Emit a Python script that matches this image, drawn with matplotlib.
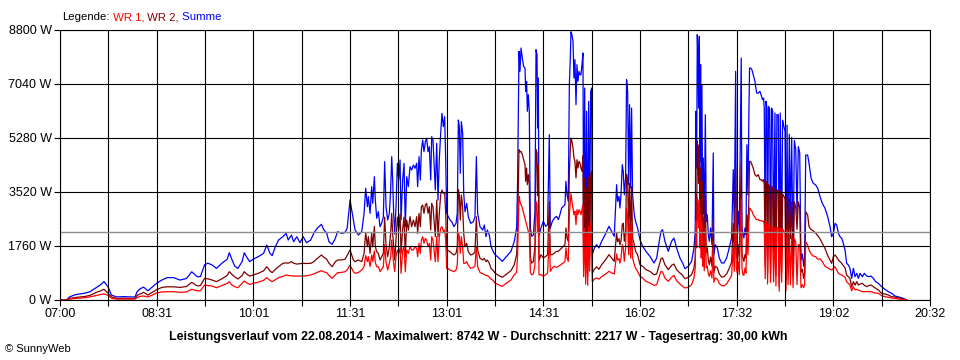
import matplotlib
matplotlib.use("Agg")
import matplotlib.pyplot as plt
import numpy as np

plt.rcParams['font.family'] = ['Liberation Sans', 'DejaVu Sans']

# minutes after 07:00
minutes = [
    0, 6, 9, 14, 19, 24, 28, 34, 38, 41, 45, 48, 53, 60, 66, 70, 72, 75, 78, 82, 86, 90, 95, 100, 106, 112, 118, 123, 128, 131,
    135, 138, 142, 146, 151, 156, 158, 160, 163, 166, 170, 172, 174, 177, 180, 185, 190, 193, 196, 198, 201, 204, 208, 211, 213, 216, 218, 221, 224, 227, 230, 234, 237, 240, 244, 246, 249, 251, 254, 257, 259, 263, 266, 268,
    270.7, 273.8, 275.4, 278.5, 281.6, 283.8, 285.3, 286.9, 287.8, 289.4,
    290.9, 291.9, 293.4, 294.3, 295.6, 297.1, 298.7, 300.2, 301.8, 303.0,
    304.3, 305.8, 307.4, 308.6, 309.6, 310.5, 311.4, 312.4, 313.6, 314.9,
    316.1, 317.4, 318.3, 319.8, 321.1, 322.3, 323.6, 325.1, 326.7, 328.2,
    329.8, 331.3, 332.9, 333.8, 335.1, 336.3, 337.3, 338.5, 339.7, 341.0,
    342.2, 343.5, 344.7, 346.0, 346.9, 348.1, 349.1, 350.3, 351.6, 352.8,
    354.0, 355.3, 356.5, 357.8, 359.0, 360.0, 360.9, 362.4, 364.0, 365.6,
    367.7, 369.6, 370.8, 371.8, 372.7, 373.6, 374.6, 375.8, 376.8, 378.0,
    379.6, 381.1, 383.3, 385.8, 387.3, 388.6, 389.8, 392.0, 394.5, 396.0,
    397.6, 398.8, 400.7, 402.3, 404.4,
    406.0, 409.1, 412.8, 416.9, 420.9, 424.0, 426.2, 427.1, 428.4, 429.3,
    430.3, 431.5, 432.7, 434.0, 434.6, 435.5, 436.2, 437.1, 438.0, 439.0,
    440.2, 441.8, 443.3, 444.3, 445.2, 445.8, 446.4, 447.1, 448.9, 451.1,
    453.3, 455.1, 456.7, 457.6, 459.5, 461.4, 463.5, 465.1, 466.6, 468.2,
    469.8, 471.3, 472.2, 473.2, 474.4, 475.4, 476.3, 476.9, 477.8, 478.8,
    479.7, 480.6, 481.6, 482.5, 483.4, 484.4, 485.3, 486.2, 487.2, 488.1,
    488.7, 489.7, 490.6, 491.5, 492.5, 493.4, 494.3, 495.3, 496.2, 496.8,
    498.7, 500.9, 503.0, 505.5, 508.6, 512.4, 514.9, 517.3, 519.5, 520.4,
    521.7, 522.6, 523.6, 524.8, 525.7, 526.7, 527.9, 528.8, 529.8, 530.7,
    531.6, 532.6, 533.5, 534.4, 536.0, 537.2, 539.1,
    541.3, 543.8, 546.9, 550.6, 554.4, 556.9, 559.3, 560.9, 562.4, 564.6,
    567.7, 570.8, 573.0, 575.5, 578.6, 581.1, 583.3, 586.4, 589.5, 591.7,
    592.9, 593.5, 594.2, 594.8, 595.4, 596.0, 596.7, 597.3, 597.9, 598.5,
    599.1, 599.8, 600.4, 601.3, 602.3, 603.2, 604.1, 605.1, 606.0, 607.2,
    608.5, 609.7, 610.3, 611.6, 613.5, 615.3, 617.5, 619.7, 622.2, 624.6,
    626.8, 628.4, 629.3, 630.6, 631.2, 632.1, 633.0, 634.0, 634.9, 635.8,
    636.5, 637.4, 638.3, 639.3, 640.2, 641.1, 642.1, 643.0, 643.6, 644.6,
    645.8, 647.0, 648.6, 650.2, 651.7, 653.3, 654.8, 655.7, 656.7, 657.3,
    658.2, 658.9, 659.8, 660.4, 661.3, 662.3, 663.2, 664.1, 665.1, 666.0,
    667.3, 668.2, 669.1, 670.4, 671.3, 672.2, 673.5, 674.4, 675.3,
    676.7, 677.6, 678.6, 679.5, 680.7, 681.7, 682.9, 684.2, 685.4, 686.7, 687.9, 689.1, 690.4, 691.6, 692.9, 694.1, 695.0,
    696.0, 697.8, 699.1, 701.0, 703.1, 705.3, 707.2, 709.4, 711.5, 714.0,
    716.5, 718.7, 720.2, 721.8, 723.4, 724.9, 726.5, 728.0, 729.6, 731.1,
    732.7, 734.2, 735.8, 737.3, 738.9, 740.5, 742.0, 743.6, 745.1, 746.7,
    748.9, 750.7, 752.9, 755.1, 756.9, 759.1, 761.3, 763.8, 766.9, 770.0,
    773.1, 776.2, 779.3, 784.0, 787.1, 790.2,
]

summe = [
    0, 0, 100, 170, 200, 230, 270, 410, 500, 600, 420, 160, 100, 110, 100, 100, 270, 370, 420, 300, 420, 540, 650, 730, 730, 650, 700, 920, 760, 760,
    1150, 1200, 1140, 1030, 1195, 1325, 1540, 1360, 1108, 1030, 1250, 1540, 1412, 1250, 1325, 1412, 1520, 1790, 1520, 1445, 1738, 1955, 2063, 2172, 1955, 2117, 1900, 2063, 1868, 2063, 1868, 1955, 2183, 2335, 2466, 2300, 2172, 1900, 1814, 2010, 2226, 2172, 2200, 2335,
    3259, 2607, 2281, 2118, 2227, 2825, 3640, 3041, 3367, 2825,
    3693, 3150, 4019, 3259, 2662, 2879, 2390, 2498, 2716, 4508,
    3041, 2607, 2825, 3585, 4671, 3911, 2825, 2150, 3041, 4454,
    3911, 4563, 2607, 3911, 4454, 2390, 4019, 3693, 4345, 4237,
    4400, 4291, 4454, 3693, 4671, 3911, 4889, 5214, 4834, 5160,
    5269, 4834, 4997, 3911, 5323, 5214, 4454, 3585, 5106, 3259,
    4563, 5431, 6083, 5649, 5975, 4563, 2825, 2716, 2607, 2553,
    2390, 2498, 2825, 5866, 5649, 4128, 5812, 5431, 3476, 2879,
    3150, 2716, 2498, 2553, 2716, 4671, 2825, 2390, 2281, 2444,
    2064, 2281, 2118, 1738, 1575,
    1477, 1390, 1260, 1423, 1586, 1912, 2346, 3868, 8104, 7452,
    8213, 7887, 7615, 7561, 6800, 7127, 6150, 6692, 6150, 2346,
    2075, 2118, 2890, 8158, 7995, 5605, 7235, 2118, 2346, 2564,
    2401, 2455, 5388, 2346, 2564, 2672, 2727, 2618, 2781, 2998,
    3052, 3107, 3868, 3432, 3215, 7018, 7887, 8742, 8647, 8430,
    7235, 7832, 6366, 7670, 7127, 7452, 7343, 7343, 7670, 8050,
    1912, 6909, 1369, 6150, 1260, 6475, 2346, 6800, 6909, 1477,
    1695, 1803, 1695, 1912, 2118, 2401, 2238, 2075, 3758, 3215,
    3378, 2998, 3432, 4410, 4193, 3432, 3976, 7181, 6800, 3758,
    6366, 3650, 6257, 3432, 2781, 2564, 2346,
    1966, 1749, 1586, 1423, 1206, 1369, 1912, 2238, 2292, 1912,
    1586, 1912, 2020, 1695, 1369, 1206, 1021, 1097, 1260, 1695,
    2238, 6150, 4302, 8647, 7995, 6257, 8593, 4519, 7670, 3432,
    7018, 2781, 4628, 2346, 6040, 2564, 2781, 2129, 1912, 2346,
    1803, 4791, 1477, 1803, 1695, 1369, 1206, 1206, 1369, 1695,
    2020, 4247, 2346, 7452, 2455, 2346, 2890, 2238, 5171, 7887,
    2346, 2129, 2020, 2346, 2129, 5062, 3432, 6150, 7561, 7561,
    7506, 7343, 7127, 6746, 6746, 6800, 6638, 6529, 6583, 6257,
    1803, 6475, 6257, 1369, 6312, 6203, 1477, 6257, 6150, 1586,
    6095, 1260, 6040, 6040, 717, 6095, 1477, 5860, 5700,
    5500, 1000, 5700, 1600, 5400, 2500, 5300, 1200, 5200, 4900, 2800, 5000, 4800, 1300, 1500, 1100, 1400,
    4725, 4725, 4454, 3965, 3802, 3748, 3639, 3367, 3150, 2987,
    2716, 2390, 2064, 2173, 2498, 2444, 2173, 2064, 2010, 1847,
    1630, 1195, 1141, 1032, 706, 1032, 760, 869, 706, 869,
    760, 869, 782, 760, 782, 706, 597, 543, 434, 347,
    272, 217, 130, 87, 54, 0,
]

wr2 = [
    0, 0, 50, 80, 100, 120, 150, 250, 300, 350, 220, 100, 50, 60, 50, 50, 150, 200, 250, 160, 250, 330, 410, 430, 430, 410, 440, 575, 460, 470,
    706, 690, 650, 597, 690, 800, 923, 850, 760, 685, 800, 923, 850, 780, 815, 870, 950, 1086, 950, 890, 1000, 1086, 1195, 1210, 1200, 1250, 1200, 1170, 1185, 1195, 1190, 1195, 1250, 1350, 1466, 1400, 1325, 1200, 1086, 1250, 1300, 1310, 1325, 1450,
    1630, 1304, 1249, 1304, 1250, 1521, 2200, 1738, 2064, 1521,
    2173, 1738, 2400, 1738, 1575, 1521, 1304, 1412, 1521, 2700,
    1800, 1412, 1738, 2173, 2825, 2173, 1738, 1304, 1955, 2700,
    2281, 2800, 1521, 2300, 2700, 1412, 2607, 2281, 2716, 2390,
    2607, 2390, 2716, 2173, 2825, 2390, 3041, 3096, 2825, 3096,
    3150, 2825, 3041, 2281, 3150, 3041, 2607, 2064, 3259, 2064,
    2825, 3422, 3585, 3476, 3476, 2825, 1630, 1608, 1575, 1521,
    1466, 1521, 1738, 3600, 3422, 2607, 3422, 3041, 2173, 1738,
    1847, 1575, 1466, 1499, 1575, 2716, 1630, 1358, 1304, 1358,
    1249, 1304, 1195, 1032, 956,
    880, 804, 739, 847, 956, 1151, 1477, 2300, 4899, 4823,
    4845, 4736, 4573, 4410, 3868, 4302, 3758, 4085, 3758, 1400,
    1200, 1250, 1750, 4900, 4800, 3400, 4400, 1300, 1477, 1369,
    1423, 1477, 3200, 1477, 1477, 1532, 1586, 1586, 1640, 1695,
    1749, 1803, 2346, 2020, 1912, 4200, 4900, 5280, 5171, 4954,
    4628, 4519, 3976, 4573, 4302, 4519, 4465, 4302, 4193, 4700,
    1150, 3976, 850, 3650, 780, 4000, 1400, 4100, 4200, 880,
    1000, 1080, 1000, 1150, 1280, 1477, 1369, 1260, 2200, 1900,
    2000, 1800, 1912, 2455, 2500, 1912, 2238, 4100, 3900, 2238,
    3800, 2129, 3700, 2020, 1803, 1586, 1477,
    1151, 1097, 988, 934, 825, 847, 1151, 1347, 1369, 1151,
    988, 1130, 1173, 988, 880, 804, 695, 739, 825, 1043,
    1369, 3432, 2600, 5171, 4900, 3800, 5062, 2346, 4302, 2129,
    3868, 1700, 2700, 1400, 3432, 1550, 1700, 1300, 1150, 1400,
    1100, 2564, 900, 1100, 1050, 850, 750, 760, 850, 1030,
    1230, 2500, 1369, 4300, 1477, 1369, 1803, 1315, 3000, 4500,
    1477, 1369, 1260, 1477, 1369, 2781, 2129, 3432, 4519, 4519,
    4410, 4302, 4085, 4030, 4085, 3922, 3922, 3868, 3922, 3758,
    1100, 3868, 3758, 850, 3758, 3650, 900, 3704, 3650, 1000,
    3595, 800, 3595, 3541, 430, 3541, 900, 3450, 3400,
    3300, 700, 3350, 1100, 3300, 2000, 3200, 800, 3200, 3000, 2300, 3200, 3000, 900, 1000, 700, 900,
    2879, 2770, 2390, 2300, 2250, 2180, 2100, 1990, 1850, 1680,
    1450, 1300, 1195, 1412, 1467, 1400, 1304, 1250, 1195, 1120,
    1050, 815, 760, 706, 420, 597, 480, 600, 489, 520,
    543, 480, 434, 470, 489, 434, 380, 326, 217, 196,
    163, 109, 95, 60, 20, 0,
]

wr1 = [
    0, 0, 30, 50, 60, 80, 100, 150, 180, 200, 150, 60, 30, 30, 30, 30, 80, 120, 130, 100, 160, 230, 260, 270, 270, 250, 260, 350, 300, 300,
    489, 470, 456, 400, 470, 540, 597, 500, 435, 400, 550, 620, 560, 510, 540, 580, 640, 728, 640, 597, 660, 728, 770, 815, 800, 790, 780, 780, 780, 780, 790, 815, 850, 900, 956, 920, 890, 800, 706, 820, 890, 900, 923, 980,
    1141, 923, 869, 896, 978, 1086, 1450, 1249, 1412, 1086,
    1467, 1249, 1600, 1217, 1086, 1086, 923, 1000, 1086, 1800,
    1240, 978, 1195, 1412, 1955, 1521, 1195, 923, 1412, 1630,
    1521, 1700, 869, 1600, 1750, 923, 1630, 1521, 1738, 1630,
    1630, 1738, 1684, 1412, 1847, 1521, 1955, 2064, 1847, 2009,
    1955, 1738, 1847, 1304, 2064, 1955, 1630, 1249, 2064, 1249,
    2064, 2336, 2390, 2227, 2281, 1955, 1032, 1020, 978, 956,
    923, 978, 1141, 2200, 2064, 1521, 2064, 1738, 1195, 1195,
    1249, 1130, 1032, 1054, 1108, 1738, 1086, 896, 858, 836,
    793, 804, 750, 684, 630,
    554, 500, 445, 554, 652, 826, 900, 1500, 3378, 3215,
    3107, 2998, 2835, 2672, 2564, 2455, 2346, 2238, 2183, 900,
    820, 850, 1150, 3200, 3100, 2200, 2800, 820, 826, 771,
    826, 880, 2100, 934, 1043, 1097, 1065, 1097, 1130, 1173,
    1206, 1260, 1695, 1369, 1260, 2800, 3200, 3462, 3215, 2998,
    2781, 2890, 2455, 2944, 2781, 2944, 2890, 2781, 2944, 3100,
    760, 2346, 520, 2129, 480, 2400, 940, 2500, 2600, 600,
    680, 720, 680, 760, 830, 934, 880, 847, 1500, 1300,
    1350, 1200, 1369, 1803, 1700, 1260, 1695, 3000, 2700, 1477,
    2500, 1369, 2500, 1369, 1151, 1043, 934,
    771, 717, 608, 554, 478, 500, 771, 934, 913, 717,
    608, 739, 804, 630, 521, 445, 391, 413, 500, 717,
    1043, 2564, 1700, 3324, 3100, 2346, 3270, 1695, 2781, 1369,
    2564, 1100, 1900, 950, 2346, 1050, 1100, 850, 770, 950,
    720, 1912, 580, 720, 680, 540, 470, 460, 530, 660,
    800, 1700, 934, 3000, 1043, 880, 1260, 826, 2100, 3300,
    1043, 826, 804, 1043, 880, 2129, 1477, 2564, 2998, 2944,
    2890, 2781, 2694, 2618, 2618, 2585, 2585, 2564, 2564, 2455,
    700, 2564, 2455, 520, 2455, 2401, 577, 2401, 2390, 586,
    2346, 460, 2368, 2346, 287, 2346, 577, 2300, 2250,
    2200, 300, 2300, 500, 2100, 500, 2100, 400, 2000, 1900, 500, 1800, 1800, 400, 500, 400, 500,
    1901, 1792, 1630, 1500, 1430, 1412, 1330, 1340, 1250, 1100,
    1045, 1000, 978, 1032, 1086, 980, 869, 840, 815, 780,
    740, 597, 540, 489, 300, 434, 330, 347, 326, 300,
    272, 272, 272, 272, 272, 239, 228, 217, 141, 109,
    87, 65, 50, 30, 15, 0,
]

y_ticks = [0, 1760, 3520, 5280, 7040, 8800]
x_tick_labels = ["07:00", "08:31", "10:01", "11:31", "13:01", "14:31", "16:02", "17:32", "19:02", "20:32"]
span_minutes = 812
average_w = 2217
title = ("Leistungsverlauf vom 22.08.2014 - Maximalwert: 8742 W - "
         "Durchschnitt: 2217 W - Tagesertrag: 30,00 kWh")

C_WR1 = '#ff0000'
C_WR2 = '#800000'
C_SUM = '#0000ff'

fig = plt.figure(figsize=(9.6, 3.6), dpi=100)
ax = fig.add_axes([60 / 960, 60 / 360, 870 / 960, 270 / 360])

ax.plot(minutes, summe, color=C_SUM, lw=0.9, zorder=2)
ax.plot(minutes, wr2, color=C_WR2, lw=0.9, zorder=2.1)
ax.plot(minutes, wr1, color=C_WR1, lw=0.9, zorder=2.2)
ax.axhline(average_w, color='#8c8c8c', lw=1.0, zorder=3)

ax.set_xlim(0, span_minutes)
ax.set_ylim(0, 8800)
ax.set_xticks(np.linspace(0, span_minutes, len(x_tick_labels)))
ax.set_xticklabels(x_tick_labels)
ax.set_xticks(np.linspace(0, span_minutes, 2 * len(x_tick_labels) - 1), minor=True)
ax.set_yticks(y_ticks)
ax.set_yticklabels([f"{v} W" for v in y_ticks])
ax.set_axisbelow(False)
ax.grid(True, which='both', color='black', lw=0.8)
ax.tick_params(which='both', length=4, width=0.8, color='black', labelsize=9, pad=2)
for s in ax.spines.values():
    s.set_linewidth(0.8)
    s.set_zorder(4)

fig.text(478 / 960, 1 - 337 / 360, title, ha='center', va='center',
         fontsize=8.9, fontweight='bold')
fig.text(5 / 960, 1 - 349 / 360, "\u00a9 SunnyWeb", ha='left', va='center', fontsize=8)

prev = fig.text(62 / 960, 1 - 17 / 360, "Legende:", ha='left', va='center',
                fontsize=8.2, color='black')
for txt, col in [(" WR 1,", C_WR1), (" WR 2,", C_WR2), (" Summe", C_SUM)]:
    prev = ax.annotate(txt, xy=(1, 0), xycoords=prev, ha='left', va='bottom',
                       fontsize=8.2, color=col, annotation_clip=False)

fig.savefig("out.png", dpi=100)
